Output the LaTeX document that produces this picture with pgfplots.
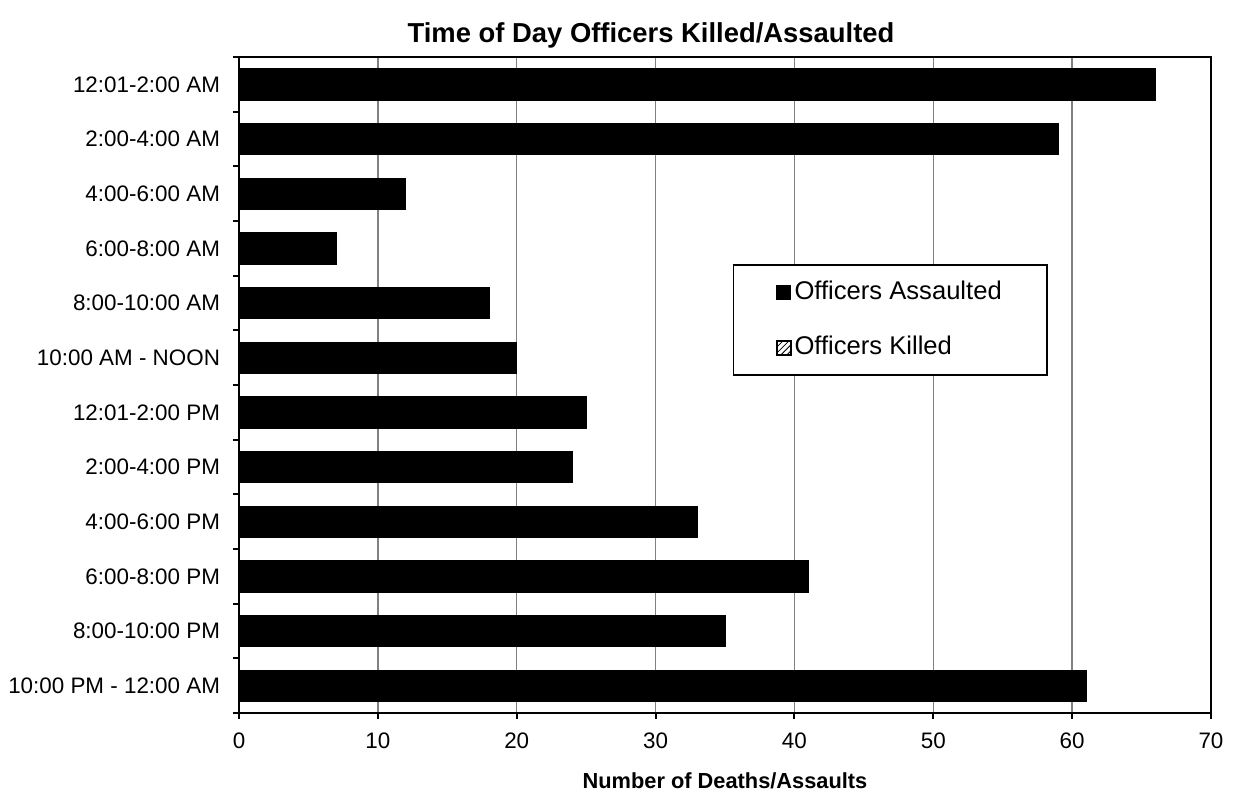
\documentclass[border=0pt]{standalone}
\usepackage{fontspec}
\setmainfont{Liberation Sans}
\usepackage{pgfplots}
\pgfplotsset{compat=1.18}
\usetikzlibrary{patterns}

\begin{document}
\begin{tikzpicture}
\begin{axis}[
  name=ax,
  scale only axis, width=486bp, height=328bp,
  xbar, bar width=0.57, bar shift=0pt,
  xmin=0, xmax=70, xtick={0,10,...,70},
  ymin=-0.5, ymax=11.5, y dir=reverse,
  ytick={-0.5,0.5,...,11.5},
  yticklabels={},
  extra y ticks={0,...,11},
  extra y tick labels={12:01-2:00 AM, 2:00-4:00 AM, 4:00-6:00 AM, 6:00-8:00 AM, 8:00-10:00 AM, 10:00 AM - NOON, 12:01-2:00 PM, 2:00-4:00 PM, 4:00-6:00 PM, 6:00-8:00 PM, 8:00-10:00 PM, 10:00 PM - 12:00 AM},
  extra y tick style={major tick length=0pt, grid=none},
  xtick pos=bottom, ytick pos=left,
  tick align=outside, major tick length=3bp,
  tick style={black, line width=1bp},
  xmajorgrids, grid style={gray, line width=0.75bp},
  axis line style={black, line width=1bp},
  /pgf/number format/assume math mode=true,
  ticklabel style={font=\fontsize{11.2bp}{13bp}\selectfont},
  yticklabel style={xshift=-6bp},
  xticklabel style={yshift=-3.3bp},
  xlabel={Number of Deaths/Assaults},
  xlabel style={font=\bfseries\fontsize{10.9bp}{13bp}\selectfont, at={(axis description cs:0.5,0)}, anchor=base, yshift=-37.5bp},
  title={Time of Day Officers Killed/Assaulted},
  title style={font=\bfseries\fontsize{13.7bp}{16bp}\selectfont, at={(axis description cs:0.5,1)}, anchor=base, yshift=1.5bp, xshift=-37bp},
  legend cell align=left,
  legend style={at={(axis description cs:0.508,0.684)}, anchor=north west, draw=black, line width=0.75bp,
    inner xsep=21bp, inner ysep=0bp, font=\fontsize{12.8bp}{15bp}\selectfont,
    nodes={text height=9bp, text depth=2.5bp, inner ysep=8bp, inner xsep=1.5bp}},
]
\addplot[fill=black, draw=black,
  legend image code/.code={\draw[fill=black, draw=black, line width=0.6bp] (0bp,-3.5bp) rectangle (7bp,3.5bp);}]
  coordinates {(66,0) (59,1) (12,2) (7,3) (18,4) (20,5) (25,6) (24,7) (33,8) (41,9) (35,10) (61,11)};
\addlegendentry{Officers Assaulted}
\addplot[draw=black, pattern=north east lines,
  legend image code/.code={\draw[pattern=north east lines, draw=black, line width=1bp] (0bp,-3.5bp) rectangle (7bp,3.5bp);}]
  coordinates {(0,0) (0,1) (0,2) (0,3) (0,4) (0,5) (0,6) (0,7) (0,8) (0,9) (0,10) (0,11)};
\addlegendentry{Officers Killed}
\draw[black, line width=1.5bp] (axis cs:0,-0.5) -- (axis cs:0,11.5);
\end{axis}
\path ([xshift=-119.5bp,yshift=-41bp]ax.south west) rectangle ([xshift=11bp,yshift=28.5bp]ax.north east);
\end{tikzpicture}
\end{document}
